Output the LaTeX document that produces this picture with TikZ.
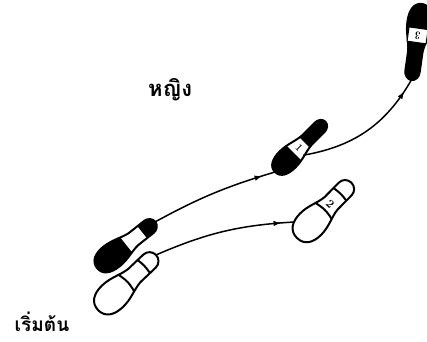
\documentclass[tikz,border=0pt]{standalone}
\usepackage{fontspec}
\newfontfamily\thaifont[Script=Thai]{Loma}
\usetikzlibrary{arrows.meta, decorations.markings}

% sole outline, heel end at the origin, toe end at (80,0)
\newcommand{\soleoutline}{(0,0) .. controls (0,10) and (8,15) .. (20,15)
  .. controls (32,15) and (40,10) .. (50,9) -- (71,9)
  arc[start angle=90, end angle=-90, radius=9] -- (50,-9)
  .. controls (40,-10) and (32,-15) .. (20,-15)
  .. controls (8,-15) and (0,-10) .. (0,0) -- cycle}

\tikzset{
  sole line/.style={line width=2pt, line join=round},
  step line/.style={line width=1.5pt, postaction=decorate,
    decoration={markings, mark=at position -13pt with {\arrow{Latex[length=8pt,width=5.5pt]}}}},
  step num/.style={transform shape, rotate=-90, inner sep=0pt, font=\bfseries\large},
  % dark sole: black heel part up to #1, black toe part from #2, number #3
  pics/ladyshoe/.style n args={3}{code={
    \begin{scope}
      \clip \soleoutline;
      \fill[white] (-2,-20) rectangle (90,20);
      \fill[black] (-2,-20) rectangle (#1,20);
      \fill[black] (#2,-20) rectangle (90,20);
    \end{scope}
    \draw[sole line] \soleoutline;
    \node[step num] at ({(#1+#2)/2},0) {#3};
    \coordinate (-heel) at (0,0);
    \coordinate (-toe) at (80,0);
    \coordinate (-inner) at (10,13);
    \coordinate (-outer) at (36,-11);
  }},
  % all black sole with a white box for the number
  pics/boxshoe/.style={code={
    \fill[black] \soleoutline;
    \draw[sole line] \soleoutline;
    \node[step num, fill=white, draw=black, line width=1pt, minimum width=24pt,
      minimum height=15pt, inner sep=1pt] at (33,0) {#1};
    \coordinate (-heel) at (0,0);
    \coordinate (-toe) at (80,0);
  }},
  % white sole with toe cap and ball lines
  pics/manshoe/.style={code={
    \draw[sole line, fill=white] \soleoutline;
    \begin{scope}
      \clip \soleoutline;
      \draw[sole line] (37,20) .. controls (42,0) .. (37,-20);
      \draw[sole line] (61,20) .. controls (65,0) .. (61,-20);
    \end{scope}
    \node[step num] at (49,0) {#1};
    \coordinate (-heel) at (0,0);
    \coordinate (-toe) at (80,0);
    \coordinate (-inner) at (10,13);
    \coordinate (-outer) at (36,-11);
  }},
}

\begin{document}
\begin{tikzpicture}[x=1pt, y=1pt]
  \useasboundingbox (0,0) rectangle (427,-341);

  % starting position
  \pic[rotate=38.4, xscale=.93, yscale=.85] (bs) at (97,-268) {ladyshoe={40}{62}{}};
  \pic[rotate=43.5, xscale=1.0, yscale=1.0] (ws) at (98,-310) {manshoe={}};

  % steps
  \pic[rotate=45, xscale=.89, yscale=.75] (s1) at (275,-172) {ladyshoe={30}{47}{1}};
  \pic[rotate=45.5, xscale=.97, yscale=1.0] (s2) at (297,-238) {manshoe={2}};
  \pic[rotate=-98, xscale=.96, yscale=.8] (s3) at (422,-4) {boxshoe={3}};

  \draw[step line] (bs-toe) to[bend left=6] (s1-heel);
  \draw[step line] (ws-toe) to[bend left=10] (s2-inner);
  \draw[step line] (s1-outer) to[out=10, in=240] (s3-toe);

  \node[font=\thaifont\fontsize{22}{26}\selectfont\bfseries] (lady) at (170,-90) {หญิง};
  \node[font=\thaifont\fontsize{19}{22}\selectfont\bfseries, inner sep=1pt] (start) at (42,-322) {เริ่มต้น};
\end{tikzpicture}
\end{document}
